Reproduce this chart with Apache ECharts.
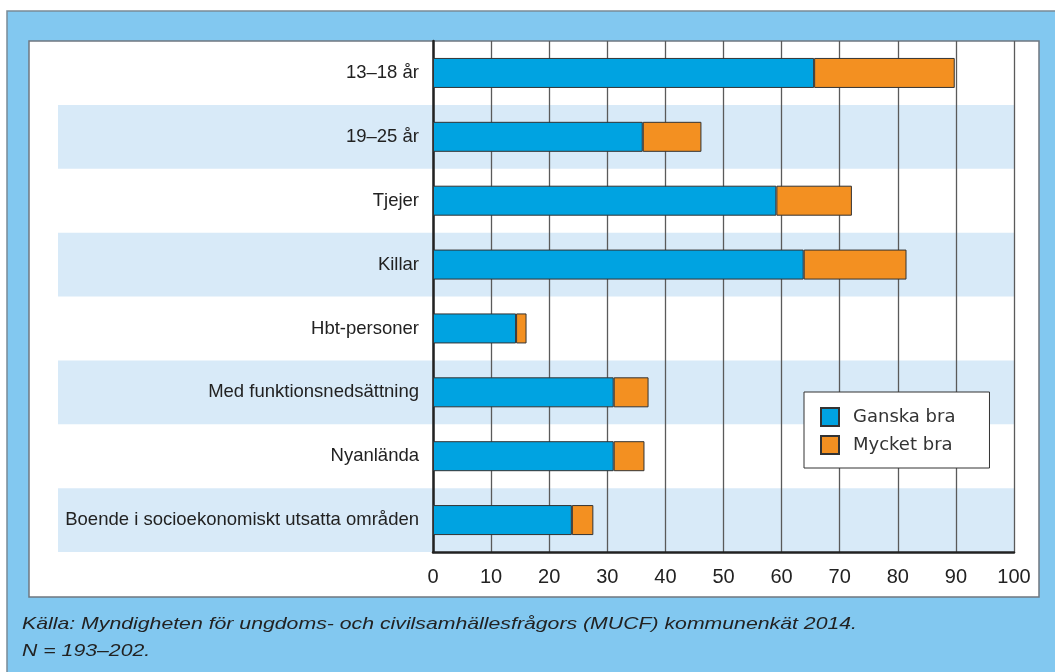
<!DOCTYPE html>
<html>
  <head>
    <meta charset="utf-8" />
    <title>ECharts</title>
    <script src="https://cdn.jsdelivr.net/npm/echarts@6/dist/echarts.min.js"></script>
    <style>
      html, body { margin: 0; padding: 0; background: #fff; }
    </style>
  </head>
  <body>
    <div id="main" style="width: 1055px;height:672px;"></div>
    <script type="text/javascript">
      // data (percent)
      var categories = [
        '13–18 år',
        '19–25 år',
        'Tjejer',
        'Killar',
        'Hbt-personer',
        'Med funktionsnedsättning',
        'Nyanlända',
        'Boende i socioekonomiskt utsatta områden'
      ];
      var ganskaBra = [65.6, 36.1, 59.1, 63.8, 14.3, 31.1, 31.1, 23.9];
      var mycketBra = [24.2, 10.1, 13.0, 17.7, 1.8, 6.0, 5.3, 3.7];
      var xTicks = [0, 100, 10];   // min, max, interval
      var sourceText = 'Källa: Myndigheten för ungdoms- och civilsamhällesfrågors (MUCF) kommunenkät 2014.\nN = 193–202.';

      var myChart = echarts.init(document.getElementById('main'));

      var axisDark = '#222';
      var barBorder = { borderColor: '#333', borderWidth: 1 };

      myChart.setOption({
        backgroundColor: '#fff',
        animation: false,
        graphic: [
          // blue frame
          {
            type: 'rect', z: -20, silent: true,
            shape: { x: 7, y: 11, width: 1060, height: 680 },
            style: { fill: '#82c8f0', stroke: '#7a8a96', lineWidth: 1.5 }
          },
          // white panel
          {
            type: 'rect', z: -19, silent: true,
            shape: { x: 29, y: 41, width: 1010, height: 556 },
            style: { fill: '#fff', stroke: '#6f7780', lineWidth: 1.5 }
          },
          // source note under the panel (the original type is set wide)
          {
            type: 'text', z: 10, silent: true,
            x: 22, y: 611,
            scaleX: 1.25,
            style: {
              text: sourceText,
              font: 'italic 17px "Liberation Sans"',
              lineHeight: 27,
              fill: '#222'
            }
          }
        ],
        legend: {
          orient: 'vertical',
          left: 804,
          top: 392,
          padding: [15, 34, 13, 16],
          itemGap: 8,
          itemWidth: 18,
          itemHeight: 18,
          icon: 'rect',
          backgroundColor: '#fff',
          borderColor: '#333',
          borderWidth: 1,
          textStyle: {
            fontFamily: 'DejaVu Sans',
            fontSize: 18,
            color: '#333',
            padding: [0, 0, 0, 9]
          },
          data: ['Ganska bra', 'Mycket bra']
        },
        grid: [
          // band grid, reaches out under the labels
          { left: 58, right: 41, top: 41, bottom: 120 },
          // plot grid
          { left: 433, right: 41, top: 41, bottom: 120 }
        ],
        xAxis: [
          {
            gridIndex: 0, type: 'value', min: xTicks[0], max: xTicks[1], show: false
          },
          {
            gridIndex: 1,
            type: 'value',
            min: xTicks[0],
            max: xTicks[1],
            interval: xTicks[2],
            axisLine: { show: true, lineStyle: { color: axisDark, width: 2.5 } },
            axisTick: { show: false },
            axisLabel: {
              margin: 15,
              fontFamily: 'Liberation Sans',
              fontSize: 20,
              color: '#222'
            },
            splitLine: { show: true, lineStyle: { color: '#5a5a5a', width: 1.3 } }
          }
        ],
        yAxis: [
          {
            gridIndex: 0,
            type: 'category',
            data: categories,
            inverse: true,
            z: -5,
            axisLine: { show: false },
            axisTick: { show: false },
            axisLabel: { show: false },
            splitLine: { show: false },
            splitArea: {
              show: true,
              areaStyle: { color: ['rgba(255,255,255,0)', '#d8eaf8'] }
            }
          },
          {
            gridIndex: 1,
            type: 'category',
            data: categories,
            inverse: true,
            axisLine: { show: true, lineStyle: { color: axisDark, width: 2.5 } },
            axisTick: { show: false },
            axisLabel: {
              margin: 14,
              fontFamily: 'Liberation Sans',
              fontSize: 18.5,
              color: '#222'
            },
            splitLine: { show: false }
          }
        ],
        series: [
          {
            name: 'Ganska bra',
            type: 'bar',
            stack: 'total',
            xAxisIndex: 1,
            yAxisIndex: 1,
            barWidth: 30,
            itemStyle: Object.assign({ color: '#00a3e1' }, barBorder),
            data: ganskaBra
          },
          {
            name: 'Mycket bra',
            type: 'bar',
            stack: 'total',
            xAxisIndex: 1,
            yAxisIndex: 1,
            barWidth: 30,
            itemStyle: Object.assign({ color: '#f39021' }, barBorder),
            data: mycketBra
          }
        ]
      });
    </script>
  </body>
</html>
